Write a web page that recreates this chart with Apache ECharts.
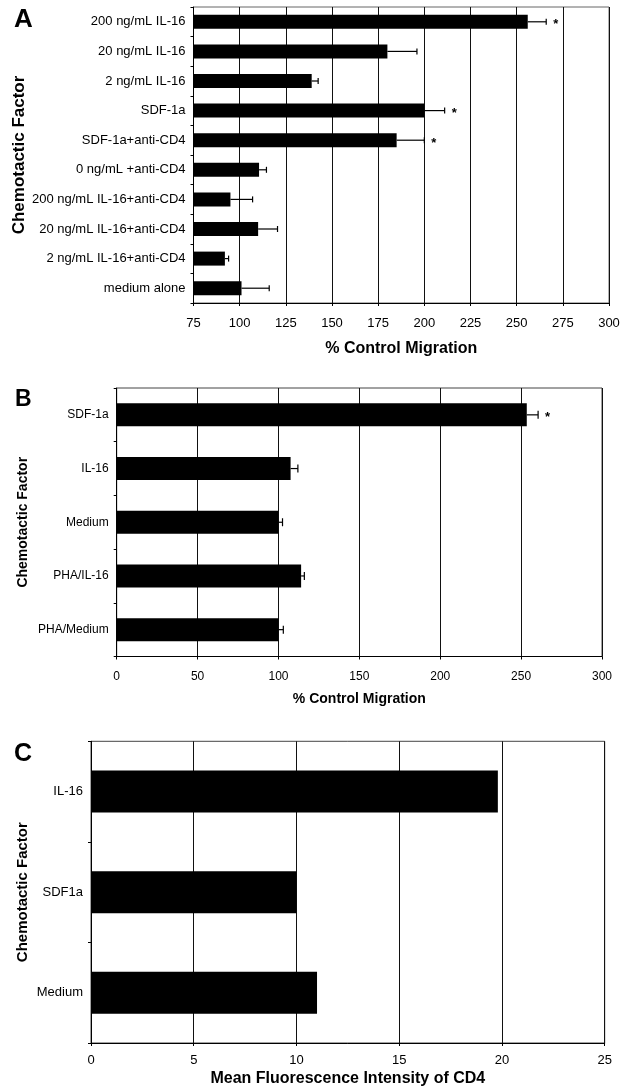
<!DOCTYPE html>
<html>
<head>
<meta charset="utf-8">
<script src="https://cdn.jsdelivr.net/npm/echarts@6.0.0/dist/echarts.min.js"></script>
<style>
  html, body { margin: 0; padding: 0; background: #fff; }
  #chart { width: 623px; height: 1087px; }
</style>
</head>
<body>
<div id="chart"></div>
<script>
// panel A: % control migration
const catsA = ['200 ng/mL IL-16', '20 ng/mL IL-16', '2 ng/mL IL-16', 'SDF-1a', 'SDF-1a+anti-CD4',
  '0 ng/mL +anti-CD4', '200 ng/mL IL-16+anti-CD4', '20 ng/mL IL-16+anti-CD4', '2 ng/mL IL-16+anti-CD4', 'medium alone'];
const valsA = [256, 180, 139, 200, 185, 110.5, 95, 110, 92, 101];
const errA = [10, 16, 3.5, 11, 15, 4, 12, 10.5, 2, 15];
const sigA = [1, 0, 0, 1, 1, 0, 0, 0, 0, 0];
const ticksA = { min: 75, max: 300, interval: 25 };

// panel B
const catsB = ['SDF-1a', 'IL-16', 'Medium', 'PHA/IL-16', 'PHA/Medium'];
const valsB = [253.5, 107.5, 100, 114, 100];
const errB = [7, 4.5, 2.5, 2, 3];
const sigB = [1, 0, 0, 0, 0];
const ticksB = { min: 0, max: 300, interval: 50 };

// panel C: mean fluorescence intensity of CD4
const catsC = ['IL-16', 'SDF1a', 'Medium'];
const valsC = [19.8, 10, 11];
const ticksC = { min: 0, max: 25, interval: 5 };

const FONT = 'Liberation Sans, Arial, Helvetica, sans-serif';

function errRows(vals, errs, sigs) {
  return vals.map((v, i) => [v, errs[i], i, sigs[i]]);
}

function errorRender(capHalf) {
  return function (params, api) {
    const v = api.value(0), e = api.value(1), cat = api.value(2), sig = api.value(3);
    const p0 = api.coord([v, cat]);
    const p1 = api.coord([v + e, cat]);
    const line = { stroke: '#000', lineWidth: 1.2 };
    const kids = [
      { type: 'line', shape: { x1: p0[0], y1: p0[1], x2: p1[0], y2: p1[1] }, style: line },
      { type: 'line', shape: { x1: p1[0], y1: p1[1] - capHalf, x2: p1[0], y2: p1[1] + capHalf }, style: line }
    ];
    if (sig) {
      kids.push({ type: 'text', x: p1[0] + 7, y: p1[1] + 3,
        style: { text: '*', fontSize: 13, fontWeight: 'bold', fontFamily: FONT, fill: '#000', verticalAlign: 'middle' } });
    }
    return { type: 'group', children: kids };
  };
}

function xAx(idx, t, name, labelSize, margin, gap, nameSize) {
  return {
    gridIndex: idx, type: 'value', min: t.min, max: t.max, interval: t.interval,
    name: name, nameLocation: 'middle', nameGap: gap, nameMoveOverlap: false,
    nameTextStyle: { fontFamily: FONT, fontWeight: 'bold', fontSize: nameSize, color: '#000' },
    axisLine: { show: true, lineStyle: { color: '#000', width: 1 } },
    axisTick: { show: true, length: 3, lineStyle: { color: '#000' } },
    axisLabel: { fontFamily: FONT, fontSize: labelSize, color: '#000', margin: margin },
    splitLine: { show: true, lineStyle: { color: '#111', width: 1 } }
  };
}

function yAx(idx, cats, labelSize, gap, nameSize) {
  return {
    gridIndex: idx, type: 'category', data: cats, inverse: true,
    name: 'Chemotactic Factor', nameLocation: 'middle', nameRotate: 90, nameGap: gap, nameMoveOverlap: false,
    nameTextStyle: { fontFamily: FONT, fontWeight: 'bold', fontSize: nameSize, color: '#000' },
    axisLine: { show: true, lineStyle: { color: '#000', width: 1 } },
    axisTick: { show: true, length: 3, alignWithLabel: false, lineStyle: { color: '#000' } },
    axisLabel: { fontFamily: FONT, fontSize: labelSize, color: '#000', margin: 8 },
    splitLine: { show: false }
  };
}

const chart = echarts.init(document.getElementById('chart'), null, { renderer: 'canvas' });

chart.setOption({
  animation: false,
  backgroundColor: '#fff',
  grid: [
    { left: 193.5, right: 14, top: 7, height: 296, show: true, borderColor: '#666', borderWidth: 1,
      containLabel: false, outerBoundsMode: 'none' },
    { left: 116.7, right: 21, top: 388, height: 268.5, show: true, borderColor: '#444', borderWidth: 1,
      containLabel: false, outerBoundsMode: 'none' },
    { left: 91, right: 18.3, top: 741.3, height: 301.7, show: true, borderColor: '#444', borderWidth: 1,
      containLabel: false, outerBoundsMode: 'none' }
  ],
  xAxis: [
    xAx(0, ticksA, '% Control Migration', 13, 14, 38, 16),
    xAx(1, ticksB, '% Control Migration', 12, 14, 36, 14),
    xAx(2, ticksC, 'Mean Fluorescence Intensity of CD4', 13, 11, 28, 16)
  ],
  yAxis: [
    yAx(0, catsA, 13, 166, 17),
    yAx(1, catsB, 12, 87, 14),
    yAx(2, catsC, 13, 61, 15)
  ],
  graphic: [
    { type: 'text', left: 14, top: 7, style: { text: 'A', fontSize: 26, fontWeight: 'bold', fontFamily: FONT, fill: '#000' } },
    { type: 'text', left: 15, top: 388, style: { text: 'B', fontSize: 23, fontWeight: 'bold', fontFamily: FONT, fill: '#000' } },
    { type: 'text', left: 14, top: 742, style: { text: 'C', fontSize: 25, fontWeight: 'bold', fontFamily: FONT, fill: '#000' } }
  ],
  series: [
    { type: 'bar', xAxisIndex: 0, yAxisIndex: 0, data: valsA, barWidth: 14, itemStyle: { color: '#000' } },
    { type: 'custom', xAxisIndex: 0, yAxisIndex: 0, renderItem: errorRender(3), encode: { x: 0, y: 2 },
      data: errRows(valsA, errA, sigA), z: 5 },
    { type: 'bar', xAxisIndex: 1, yAxisIndex: 1, data: valsB, barWidth: 23, itemStyle: { color: '#000' } },
    { type: 'custom', xAxisIndex: 1, yAxisIndex: 1, renderItem: errorRender(4), encode: { x: 0, y: 2 },
      data: errRows(valsB, errB, sigB), z: 5 },
    { type: 'bar', xAxisIndex: 2, yAxisIndex: 2, data: valsC, barWidth: 42, itemStyle: { color: '#000' } }
  ]
});
</script>
</body>
</html>
